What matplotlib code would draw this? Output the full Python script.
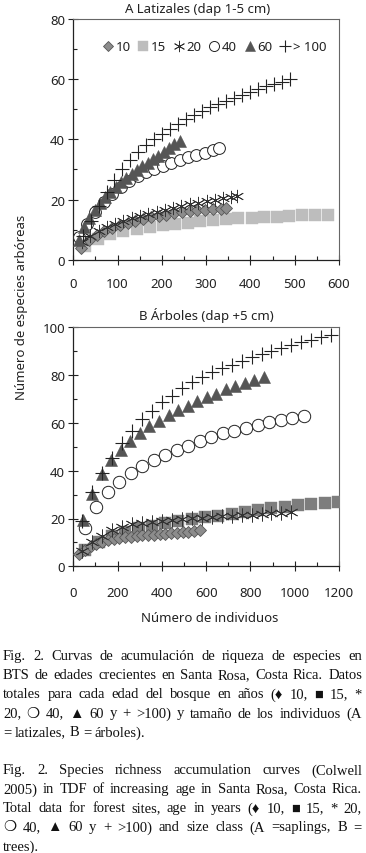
import matplotlib
matplotlib.use("Agg")
import matplotlib.pyplot as plt
from matplotlib.ticker import MultipleLocator

# ---------------- data: panel A (latizales) ----------------
xA10 = [18, 35, 53, 70, 88, 105, 123, 140, 158, 175, 193, 210, 228, 245, 263, 280, 298, 315, 333, 345]
yA10 = [3.8, 6.5, 8.3, 9.6, 10.6, 11.5, 12.3, 13.0, 13.6, 14.1, 14.6, 15.0, 15.4, 15.8, 16.1, 16.4, 16.6, 16.8, 17.0, 17.2]

xA15 = [26, 56, 84, 113, 143, 173, 203, 230, 260, 287, 316, 345, 373, 403, 431, 459, 488, 516, 546, 575]
yA15 = [4.6, 6.9, 8.5, 9.6, 10.3, 10.9, 11.4, 11.7, 12.2, 12.7, 13.1, 13.4, 13.7, 13.9, 14.1, 14.3, 14.5, 14.7, 14.8, 15.0]

xA20 = [20, 38, 57, 76, 95, 113, 132, 150, 169, 188, 207, 226, 244, 263, 282, 301, 320, 339, 357, 370]
yA20 = [6.0, 8.0, 9.5, 10.8, 12.0, 12.8, 13.7, 14.6, 15.3, 16.0, 16.6, 17.3, 17.9, 18.5, 19.0, 19.5, 20.0, 20.4, 20.8, 21.2]

xA40 = [12, 31, 50, 69, 88, 107, 126, 145, 164, 183, 202, 221, 240, 259, 278, 297, 316, 330]
yA40 = [7.5, 12.0, 16.0, 19.3, 22.0, 24.3, 26.2, 27.8, 29.1, 30.3, 31.3, 32.3, 33.2, 34.0, 34.8, 35.6, 36.3, 37.0]

xA60 = [12, 24, 36, 48, 60, 72, 84, 96, 108, 120, 132, 144, 156, 168, 180, 192, 204, 216, 228, 240]
yA60 = [6.5, 10.8, 13.8, 16.5, 18.8, 20.8, 22.6, 24.2, 25.7, 27.1, 28.4, 29.7, 31.0, 32.2, 33.4, 34.5, 35.8, 37.0, 38.3, 39.5]

xA100 = [21, 39, 57, 75, 93, 111, 129, 147, 165, 183, 201, 219, 237, 255, 273, 291, 309, 327,
         345, 363, 381, 399, 417, 435, 453, 471, 489]
yA100 = [8.0, 13.0, 18.0, 22.5, 26.5, 30.0, 33.0, 35.7, 38.0, 40.0, 41.9, 43.6, 45.2, 46.7, 48.1, 49.4, 50.6, 51.8,
         52.9, 53.9, 54.9, 55.9, 56.8, 57.6, 58.4, 59.2, 60.0]

# ---------------- data: panel B (arboles) ----------------
xB10 = [26, 52, 78, 104, 130, 156, 182, 208, 234, 260, 286, 312, 338, 364, 390, 416, 442, 468, 494, 520, 546, 572]
yB10 = [5.0, 7.0, 8.5, 9.5, 10.3, 10.9, 11.4, 11.8, 12.1, 12.4, 12.7, 12.9, 13.1, 13.3, 13.5, 13.7, 13.9, 14.1, 14.3, 14.5, 14.7, 15.0]

xB15 = [55, 115, 175, 235, 295, 355, 415, 475, 535, 595, 655, 715, 775, 835, 895, 955, 1015, 1075, 1135, 1195]
yB15 = [7.0, 10.0, 12.5, 14.5, 16.0, 17.0, 18.0, 19.0, 19.8, 20.5, 21.2, 22.0, 22.8, 23.7, 24.4, 25.0, 25.6, 26.0, 26.5, 27.0]

xB20 = [40, 85, 130, 175, 220, 265, 310, 355, 400, 445, 490, 535, 580, 625, 670, 715, 760, 805, 850, 895, 940, 985]
yB20 = [6.5, 10.0, 12.5, 15.0, 16.5, 17.5, 18.0, 18.5, 19.0, 19.4, 19.8, 20.1, 20.4, 20.7, 20.9, 21.1, 21.4, 21.6, 21.9, 22.2, 22.5, 22.8]

xB40 = [52, 104, 156, 208, 260, 312, 364, 416, 468, 520, 572, 624, 676, 728, 780, 832, 884, 936, 988, 1040]
yB40 = [15.9, 24.7, 31.0, 35.4, 38.9, 42.1, 44.5, 46.7, 48.7, 50.5, 52.3, 54.0, 55.6, 56.8, 57.9, 59.1, 60.3, 61.2, 62.0, 63.0]

xB60 = [43, 86, 129, 172, 215, 258, 301, 344, 387, 430, 473, 516, 559, 602, 645, 688, 731, 774, 817, 860]
yB60 = [19.5, 30.3, 38.5, 44.5, 48.7, 52.5, 55.8, 58.5, 61.0, 63.2, 65.3, 67.2, 69.0, 70.7, 72.2, 74.0, 75.4, 76.8, 78.0, 79.1]

xB100 = [40, 85, 130, 175, 220, 265, 310, 355, 400, 445, 490, 535, 580, 625, 670, 715, 760, 805, 850, 895,
         940, 985, 1030, 1075, 1120, 1165]
yB100 = [19.0, 31.0, 39.0, 45.5, 51.5, 56.8, 61.6, 65.1, 68.6, 71.4, 74.5, 77.0, 79.0, 81.2, 82.8, 84.4, 85.8, 87.4, 88.9, 90.2,
         91.3, 92.4, 93.7, 94.8, 95.8, 96.8]

legend_labels = ["10", "15", "20", "40", "60", "> 100"]

caption_es = [
    "Fig. 2. Curvas de acumulación de riqueza de especies en",
    "BTS de edades crecientes en Santa Rosa, Costa Rica. Datos",
    "totales para cada edad del bosque en años (♦ 10, ■ 15, *",
    "20, ❍ 40, ▲ 60 y + >100) y tamaño de los individuos (A",
    "= latizales, B = árboles).",
]
caption_en = [
    "Fig. 2. Species richness accumulation curves (Colwell",
    "2005) in TDF of increasing age in Santa Rosa, Costa Rica.",
    "Total data for forest sites, age in years (♦ 10, ■ 15, * 20,",
    "❍ 40, ▲ 60 y + >100) and size class (A =saplings, B =",
    "trees).",
]

# ---------------- figure ----------------
W, H = 366, 854
fig = plt.figure(figsize=(W / 100, H / 100), dpi=100)
SANS = ["Noto Sans", "DejaVu Sans"]
plt.rcParams["font.family"] = SANS
TXT = "#222222"


def px_axes(l, t, r, b):
    return fig.add_axes([l / W, 1 - b / H, (r - l) / W, (b - t) / H])


def style(ax, xmaj, xmin, ymaj, ymin, xpad):
    ax.xaxis.set_major_locator(MultipleLocator(xmaj))
    ax.xaxis.set_minor_locator(MultipleLocator(xmin))
    ax.yaxis.set_major_locator(MultipleLocator(ymaj))
    ax.yaxis.set_minor_locator(MultipleLocator(ymin))
    ax.tick_params(which="major", direction="inout", length=7, width=0.8, color="#222222",
                   labelsize=9.5, labelcolor=TXT)
    ax.tick_params(axis="y", which="major", pad=2.5)
    ax.tick_params(axis="x", which="major", pad=xpad)
    ax.tick_params(which="minor", direction="in", length=3, width=0.8, color="#222222")
    for s in ["left", "bottom"]:
        ax.spines[s].set_color("#222222")
        ax.spines[s].set_linewidth(0.9)
    for s in ["top", "right"]:
        ax.spines[s].set_color("#666666")
        ax.spines[s].set_linewidth(0.8)


def draw(ax, data, sq_color, scale):
    (x10, y10), (x15, y15), (x20, y20), (x40, y40), (x60, y60), (x100, y100) = data
    h = []
    h.append(ax.plot(x15, y15, ls="none", marker="s", ms=8.0 * scale, mfc=sq_color, mec=sq_color,
                     mew=0.3, zorder=3)[0])
    h.append(ax.plot(x10, y10, ls="none", marker="D", ms=6.0 * scale, mfc="#8c8c8c", mec="#555555",
                     mew=0.6, zorder=4)[0])
    h.append(ax.plot(x20, y20, ls="none", marker=(6, 2, 0), ms=9.5 * scale, mec="#333333",
                     mew=0.6, zorder=5)[0])
    h.append(ax.plot(x40, y40, ls="none", marker="o", ms=8.5 * scale, mfc="white", mec="#222222",
                     mew=0.7, zorder=6)[0])
    h.append(ax.plot(x60, y60, ls="none", marker="^", ms=8.5 * scale, mfc="#555555", mec="#555555",
                     mew=0.4, zorder=7)[0])
    h.append(ax.plot(x100, y100, ls="none", marker="+", ms=9.5 * scale, mec="#222222",
                     mew=0.8, zorder=8)[0])
    return [h[1], h[0], h[2], h[3], h[4], h[5]]


# Panel A
axA = px_axes(73.3, 20, 339, 260.7)
hA = draw(axA, [(xA10, yA10), (xA15, yA15), (xA20, yA20), (xA40, yA40), (xA60, yA60), (xA100, yA100)],
          "#bdbdbd", 1.0)
axA.set_xlim(0, 600)
axA.set_ylim(0, 80)
style(axA, 100, 50, 20, 10, 9)
axA.legend(hA, legend_labels, ncol=6, frameon=False, loc="center", bbox_to_anchor=(0.53, 0.885),
           handlelength=0.9, handletextpad=0.15, columnspacing=0.5, fontsize=9.5,
           labelcolor=TXT, borderaxespad=0, markerscale=0.85)

# Panel B
axB = px_axes(73.3, 328.3, 339, 567.3)
draw(axB, [(xB10, yB10), (xB15, yB15), (xB20, yB20), (xB40, yB40), (xB60, yB60), (xB100, yB100)],
     "#7d7d7d", 1.05)
axB.set_xlim(0, 1200)
axB.set_ylim(0, 100)
style(axB, 200, 100, 20, 10, 11)

# titles and labels
fig.text(198 / W, 1 - 10 / H, "A Latizales (dap 1-5 cm)", ha="center", va="center", fontsize=9.5, color=TXT)
fig.text(206 / W, 1 - 316 / H, "B Árboles (dap +5 cm)", ha="center", va="center", fontsize=9.5, color=TXT)
fig.text(210 / W, 1 - 618 / H, "Número de individuos", ha="center", va="center", fontsize=9.5, color=TXT)
fig.text(21.7 / W, 1 - 307 / H, "Número de especies arbóreas", ha="center", va="center", rotation=90,
         fontsize=9.5, color=TXT)

# ---------------- caption (justified) ----------------
SERIF = ["Liberation Serif", "DejaVu Sans"]
renderer = fig.canvas.get_renderer()
CAP_L, CAP_R = 3.0, 362.0
CAP_FS = 10.5
LINE = 19.0


def text_w(s):
    t = fig.text(0, 0, s, fontsize=CAP_FS, family=SERIF)
    w = t.get_window_extent(renderer).width
    t.remove()
    return w


SP_W = text_w("a a") - 2 * text_w("a")


def put_line(line, yc, justify):
    words = line.split(" ")
    texts = [fig.text(0, 1 - yc / H, w, fontsize=CAP_FS, family=SERIF, color="#111111",
                      ha="left", va="center") for w in words]
    widths = [t.get_window_extent(renderer).width for t in texts]
    if justify and len(words) > 1:
        gap = (CAP_R - CAP_L - sum(widths)) / (len(words) - 1)
    else:
        gap = SP_W
    x = CAP_L
    for t, w in zip(texts, widths):
        t.set_x(x / W)
        x += w + gap


y0 = 657
for i, ln in enumerate(caption_es):
    put_line(ln, y0 + i * LINE, i < len(caption_es) - 1)
y1 = y0 + 6 * LINE
for i, ln in enumerate(caption_en):
    put_line(ln, y1 + i * LINE, i < len(caption_en) - 1)

fig.savefig("out.png", dpi=100)
